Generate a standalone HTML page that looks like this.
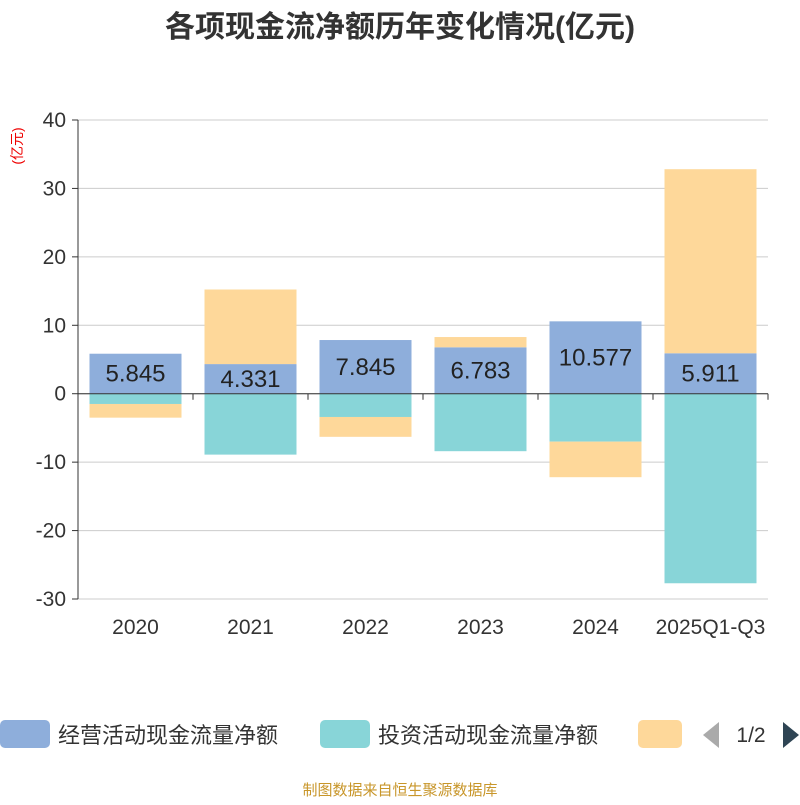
<!DOCTYPE html>
<html><head><meta charset="utf-8">
<style>
body{margin:0;background:#fff;font-family:"Liberation Sans","Noto Sans CJK SC",sans-serif;}
svg text{font-family:"Liberation Sans","Noto Sans CJK SC",sans-serif;}
</style></head>
<body>
<svg width="800" height="800" viewBox="0 0 800 800">
<text x="400" y="37" text-anchor="middle" font-size="30" font-weight="bold" fill="#333">各项现金流净额历年变化情况(亿元)</text>
<text transform="translate(22,146) rotate(-90)" text-anchor="middle" font-size="14" fill="#e00">(亿元)</text>
<g id="grid"></g>
<g id="bars"></g>
<g id="axes"></g>
<g>
<rect x="0" y="720" width="50" height="28" rx="5" fill="#8eaedb"/>
<text x="58" y="743" font-size="22" fill="#333">经营活动现金流量净额</text>
<rect x="320" y="720" width="50" height="28" rx="5" fill="#88d5d8"/>
<text x="378" y="743" font-size="22" fill="#333">投资活动现金流量净额</text>
<rect x="638" y="720" width="44" height="28" rx="5" fill="#fed89a"/>
<polygon points="719,722 719,748 703,735" fill="#aaa"/>
<text x="751" y="742" text-anchor="middle" font-size="21" fill="#333">1/2</text>
<polygon points="783,722 783,748 799,735" fill="#2f4554"/>
</g>
<text x="400" y="795" text-anchor="middle" font-size="15" fill="#c8962a">制图数据来自恒生聚源数据库</text>
</svg>
<script>
const categories=["2020","2021","2022","2023","2024","2025Q1-Q3"];
const operating=[5.845,4.331,7.845,6.783,10.577,5.911];
const investing=[-1.5,-8.9,-3.4,-8.4,-7.0,-27.7];
const financing=[-2.0,10.9,-2.9,1.5,-5.2,26.9];
const yTicks=[40,30,20,10,0,-10,-20,-30];
const NS="http://www.w3.org/2000/svg";
const x0=78,x1=768,yMax=40,yMin=-30,pTop=120,pBot=599;
const y=v=>pTop+(yMax-v)/(yMax-yMin)*(pBot-pTop);
const bw=(x1-x0)/categories.length;
const cx=i=>x0+bw*(i+0.5);
function mk(tag,attrs,parent){const e=document.createElementNS(NS,tag);for(const k in attrs)e.setAttribute(k,attrs[k]);document.getElementById(parent).appendChild(e);return e;}
yTicks.forEach(t=>{
 const l=mk("line",{x1:x0,x2:x1,y1:y(t),y2:y(t),stroke:"#ccc","stroke-width":1},"grid");
 
 
 const tk=mk("line",{x1:x0-6,x2:x0,y1:y(t),y2:y(t),stroke:"#333"},"axes");
 
 
 const tx=mk("text",{x:x0-12,y:y(t)+7,"text-anchor":"end","font-size":21,fill:"#333"},"axes");
 tx.textContent=t;
 
 
});
const ya=mk("line",{x1:x0,x2:x0,y1:pTop,y2:pBot,stroke:"#333"},"axes");


const xa=mk("line",{x1:x0,x2:x1,y1:y(0),y2:y(0),stroke:"#333"},"axes");


for(let i=0;i<=categories.length;i++){
 const t=mk("line",{x1:x0+bw*i,x2:x0+bw*i,y1:y(0),y2:y(0)+6,stroke:"#333"},"axes");
 
 
}
categories.forEach((c,i)=>{
 const t=mk("text",{x:cx(i),y:634,"text-anchor":"middle","font-size":21,fill:"#333"},"axes");
 t.textContent=c;
 
 
});
const series=[[operating,"#8eaedb","operating"],[investing,"#88d5d8","investing"],[financing,"#fed89a","financing"]];
const w=92;
categories.forEach((c,i)=>{
 let pos=0,neg=0;
 series.forEach(([arr,col,nm])=>{
  const v=arr[i];let a,b;
  if(v>=0){a=pos;b=pos+v;pos=b;}else{a=neg;b=neg+v;neg=b;}
  const top=Math.min(y(a),y(b)),h=Math.abs(y(a)-y(b));
  const r=mk("rect",{x:cx(i)-w/2,y:top,width:w,height:h,fill:col},"bars");
  
  
 });
 const lb=mk("text",{x:cx(i),y:(y(0)+y(operating[i]))/2+8,"text-anchor":"middle","font-size":24,fill:"#222"},"bars");
 lb.textContent=operating[i];
 
 
});
</script>
</body></html>
